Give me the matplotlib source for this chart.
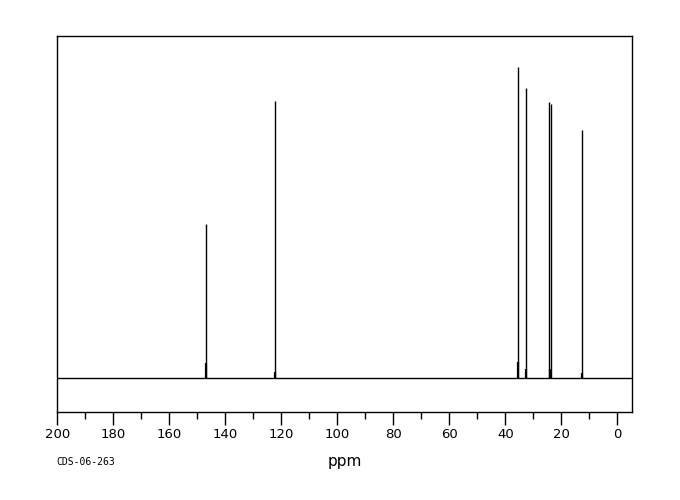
import matplotlib
matplotlib.use('Agg')
import matplotlib.pyplot as plt
from matplotlib.ticker import MultipleLocator

# peaks: shift (ppm) and height (% of tallest)
shifts = [146.9, 122.1, 35.4, 32.5, 24.3, 23.6, 12.5]
heights = [49.5, 89.0, 100.0, 93.2, 88.7, 88.1, 79.7]

# small spikes at the foot of the peaks
foot_shifts = [146.9, 122.1, 35.4, 32.5, 24.0, 12.5]
foot_heights = [5.0, 2.1, 5.3, 2.9, 2.9, 1.6]

xticks = [200, 180, 160, 140, 120, 100, 80, 60, 40, 20, 0]

fig = plt.figure(figsize=(6.8, 5), dpi=100)
ax = fig.add_axes([0.0843, 0.1766, 0.8447, 0.7514])

#baseline + peaks
ax.plot([200, -5.1], [0, 0], color='black', lw=1)
ax.vlines(shifts, 0, heights, color='black', lw=1)
ax.vlines(foot_shifts, 0, foot_heights, color='black', lw=1.6)

ax.set_xlim(200, -5.1)
ax.set_ylim(-10.7, 109.9)
ax.set_xticks(xticks)
ax.xaxis.set_minor_locator(MultipleLocator(10))
ax.tick_params(axis='x', which='major', direction='out', length=9, width=1,
               labelsize=9.5, pad=3)
ax.tick_params(axis='x', which='minor', direction='out', length=5, width=1)
ax.set_yticks([])
for s in ax.spines.values():
    s.set_linewidth(1)
    s.set_color('black')

ax.set_xlabel('ppm', fontsize=11, labelpad=9)
fig.text(56.7 / 680, 1 - 461.7 / 500, 'CDS-06-263', fontsize=7,
         family='DejaVu Sans Mono', ha='left', va='center')

fig.savefig('out.png', dpi=100)
